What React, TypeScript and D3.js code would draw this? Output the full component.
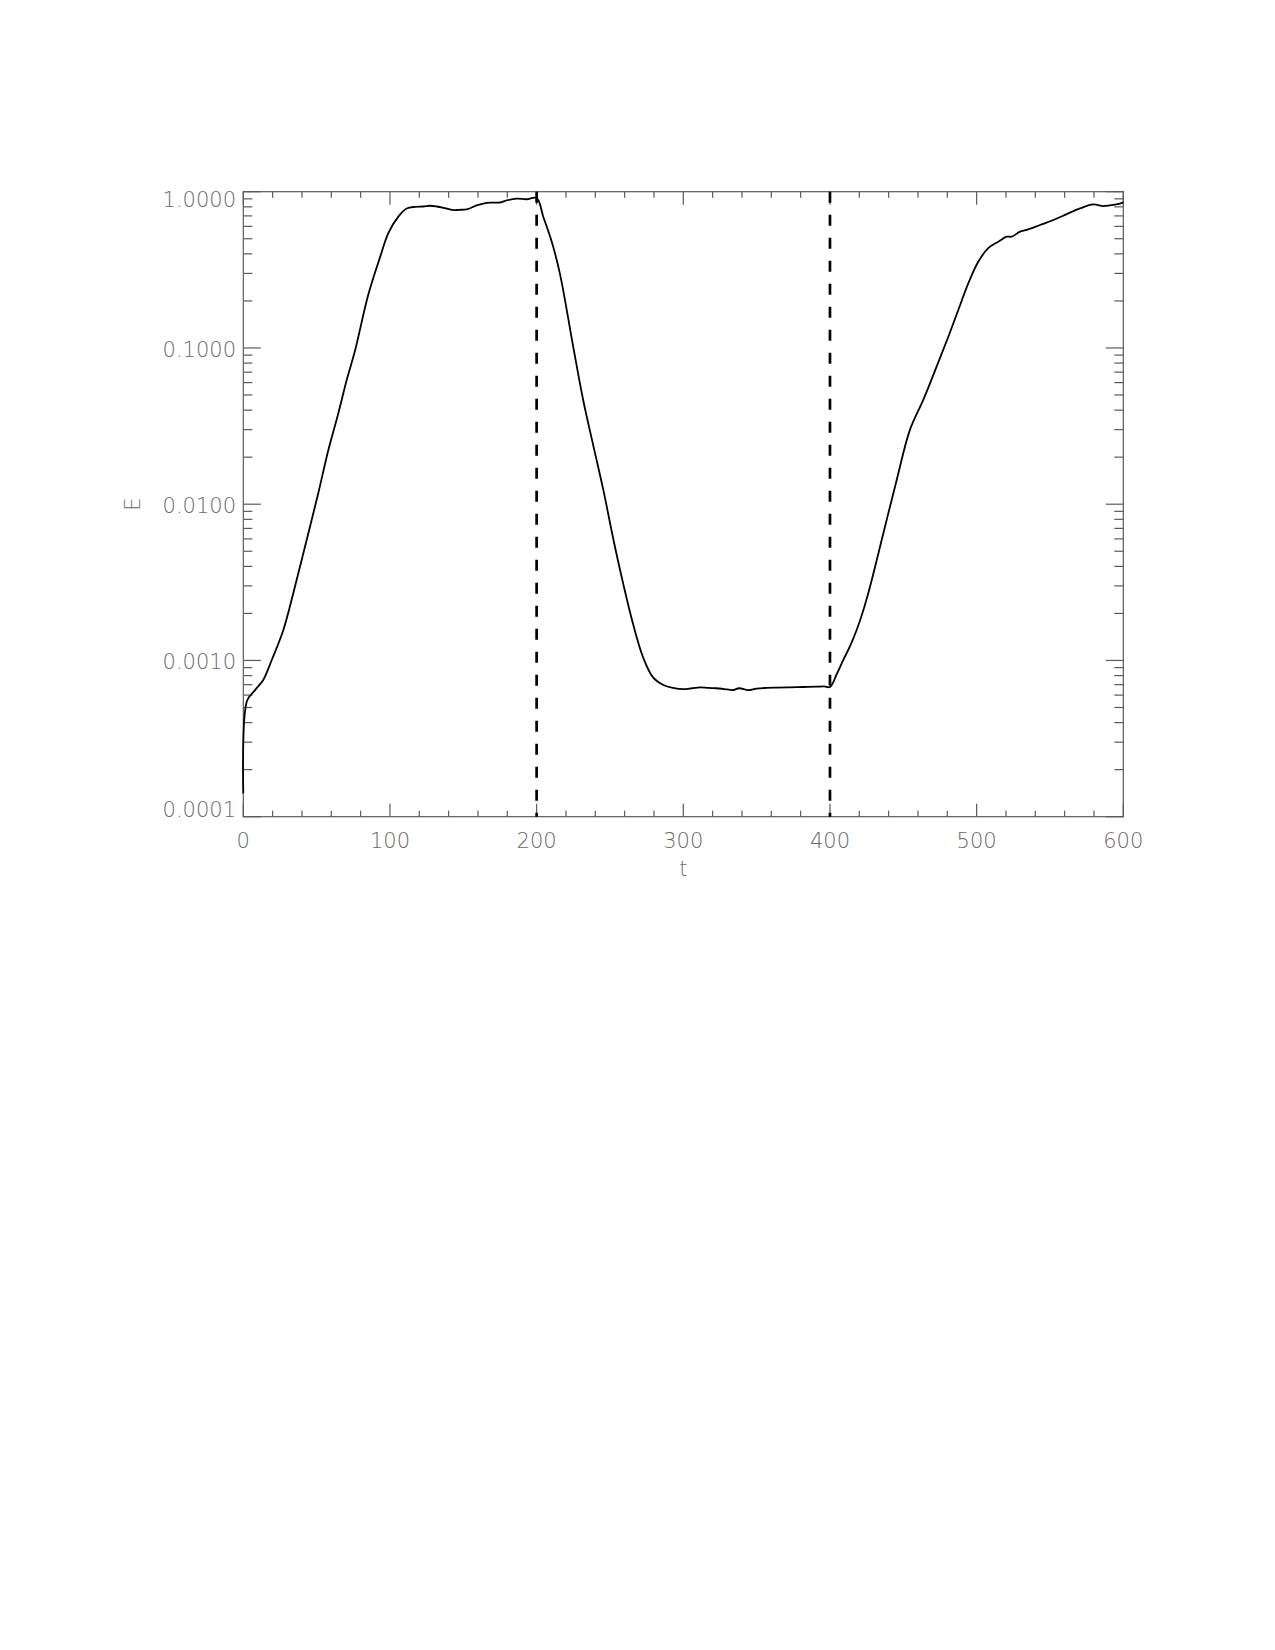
import React, { useEffect, useRef } from 'react';
import * as d3 from 'd3';

// time samples and energy
const tValues = [
  0, 2.5, 8, 13.6, 19.4, 27.3, 35.2, 43.2, 51.1, 58, 64.8, 70.5, 76.1, 85.2, 93.2, 98.9, 105.7,
  111.4, 117, 122.7, 127.3, 132, 136.4, 143.2, 147, 152.3, 159.1, 165.9, 175, 179.5, 186.4,
  193.2, 200,
  204.5, 210.2, 215.9, 225, 231.8, 238.6, 245.5, 252.3, 259.1, 265.9, 272.7, 279.5, 286.4,
  293, 300, 306, 311.4, 317, 322.7, 328, 334.1, 338, 344.3, 350, 356.8, 364, 372.7, 382,
  390.9, 396, 400,
  404.5, 409.1, 413.6, 418.2, 422.7, 427.3, 436.4, 445.5, 454.5, 463.6, 472.7, 480.7, 487.5,
  494.3, 501.1, 507.9, 514.8, 520.5, 523.9, 529.6, 534.1, 543.2, 552.3, 561.4, 570.5, 579.5,
  586.4, 590.9, 596, 600,
];
const eValues = [
  1.41e-4, 5.5e-4, 6.46e-4, 7.5e-4, 1.007e-3, 1.567e-3, 2.965e-3, 5.9e-3, 0.01175, 0.0222,
  0.0382, 0.0624, 0.0955, 0.219, 0.38, 0.543, 0.692, 0.78, 0.8, 0.804, 0.813, 0.804, 0.789,
  0.762, 0.766, 0.771, 0.818, 0.849, 0.853, 0.879, 0.902, 0.895, 0.912,
  0.692, 0.482, 0.298, 0.101, 0.0461, 0.0238, 0.0123, 0.00597, 0.00308, 0.00169, 0.00104,
  7.76e-4, 6.97e-4,
  6.68e-4, 6.56e-4, 6.64e-4, 6.73e-4, 6.67e-4, 6.64e-4, 6.56e-4, 6.47e-4, 6.64e-4, 6.46e-4,
  6.61e-4, 6.67e-4, 6.7e-4, 6.73e-4, 6.76e-4, 6.79e-4, 6.82e-4, 6.76e-4,
  8.13e-4, 1.007e-3, 1.23e-3, 1.567e-3, 2.09e-3, 2.965e-3, 6.52e-3, 0.0143, 0.0299, 0.0465,
  0.0759, 0.118, 0.175, 0.259, 0.356, 0.435, 0.479, 0.515, 0.515, 0.555, 0.569, 0.612, 0.659,
  0.719, 0.782, 0.83, 0.809, 0.818, 0.832, 0.855,
];
const xTicks = [0, 100, 200, 300, 400, 500, 600];
const yTicks = [1, 0.1, 0.01, 0.001, 0.0001];
const markerTimes = [200, 400];

export default () => {
  const svgRef = useRef<SVGSVGElement>(null);

  useEffect(() => {
    if (!svgRef.current) {
      return;
    }
    const left = 243.3, right = 1123.3, top = 191.7, bottom = 816.7;
    const axisColor = '#5a5a5a';
    const font = '"DejaVu Sans", sans-serif';

    const x = d3.scaleLinear().domain([0, 600]).range([left, right]);
    const y = d3.scaleLog().domain([1e-4, 1]).range([bottom, top]);

    const svg = d3.select(svgRef.current);
    svg.selectAll('*').remove();

    // frame
    svg.append('rect')
      .attr('x', left).attr('y', top)
      .attr('width', right - left).attr('height', bottom - top)
      .attr('fill', 'none').attr('stroke', axisColor).attr('stroke-width', 1.2);

    // x ticks, bottom and top, pointing inward
    const xMinor = d3.range(0, 601, 20).filter((v) => v % 100 !== 0);
    const xAll = [
      ...xTicks.map((v) => ({ v, len: 13 })),
      ...xMinor.map((v) => ({ v, len: 6 })),
    ];
    const xt = svg.append('g').attr('stroke', axisColor).attr('stroke-width', 1.2);
    xt.selectAll('line.b').data(xAll).enter().append('line')
      .attr('x1', (d) => x(d.v)).attr('x2', (d) => x(d.v))
      .attr('y1', bottom).attr('y2', (d) => bottom - d.len);
    xt.selectAll('line.t').data(xAll).enter().append('line')
      .attr('x1', (d) => x(d.v)).attr('x2', (d) => x(d.v))
      .attr('y1', top).attr('y2', (d) => top + d.len);

    // y ticks, log minors
    const yMinor = y.ticks().filter((v) => !yTicks.some((m) => Math.abs(m - v) / m < 1e-6));
    const yAll = [
      ...yTicks.map((v) => ({ v, len: 17.5 })),
      ...yMinor.map((v) => ({ v, len: 9 })),
    ];
    const yt = svg.append('g').attr('stroke', axisColor).attr('stroke-width', 1.2);
    yt.selectAll('line.l').data(yAll).enter().append('line')
      .attr('x1', left).attr('x2', (d) => left + d.len)
      .attr('y1', (d) => y(d.v)).attr('y2', (d) => y(d.v));
    yt.selectAll('line.r').data(yAll).enter().append('line')
      .attr('x1', right).attr('x2', (d) => right - d.len)
      .attr('y1', (d) => y(d.v)).attr('y2', (d) => y(d.v));

    // tick labels
    const labelStyle = (sel: any) => sel
      .attr('font-family', font)
      .attr('font-size', 21)
      .attr('font-weight', 300)
      .attr('fill', '#6a6a6a');

    svg.append('g').selectAll('text').data(xTicks).enter().append('text')
      .call(labelStyle)
      .attr('x', (d) => x(d)).attr('y', 848)
      .attr('text-anchor', 'middle')
      .text((d) => String(d));

    const fmt = d3.format('.4f');
    svg.append('g').selectAll('text').data(yTicks).enter().append('text')
      .call(labelStyle)
      .attr('x', 236)
      .attr('y', (d) => Math.min(Math.max(y(d) + 9, top + 15), bottom + 0.5))
      .attr('text-anchor', 'end')
      .text((d) => fmt(d));

    // axis titles
    svg.append('text').call(labelStyle)
      .attr('x', (left + right) / 2).attr('y', 876)
      .attr('text-anchor', 'middle')
      .text('t');
    svg.append('text').call(labelStyle)
      .attr('transform', `translate(140, ${(top + bottom) / 2}) rotate(-90)`)
      .attr('text-anchor', 'middle')
      .text('E');

    // dashed markers
    svg.append('g').selectAll('line').data(markerTimes).enter().append('line')
      .attr('x1', (d) => x(d)).attr('x2', (d) => x(d))
      .attr('y1', top).attr('y2', bottom)
      .attr('stroke', '#000').attr('stroke-width', 2.7)
      .attr('stroke-dasharray', '11,12');

    // energy curve
    const pts = tValues.map((t, i) => [t, eValues[i]] as [number, number]);
    const line = d3.line<[number, number]>()
      .x((d) => x(d[0]))
      .y((d) => y(d[1]))
      .curve(d3.curveCatmullRom.alpha(0.5));
    svg.append('path')
      .attr('d', line(pts))
      .attr('fill', 'none')
      .attr('stroke', '#000')
      .attr('stroke-width', 1.8)
      .attr('stroke-linejoin', 'round');
  }, []);

  return (
    <svg
      ref={svgRef}
      width={1275}
      height={1650}
      style={{ position: 'absolute', left: 0, top: 0, background: '#fff' }}
    />
  );
};
